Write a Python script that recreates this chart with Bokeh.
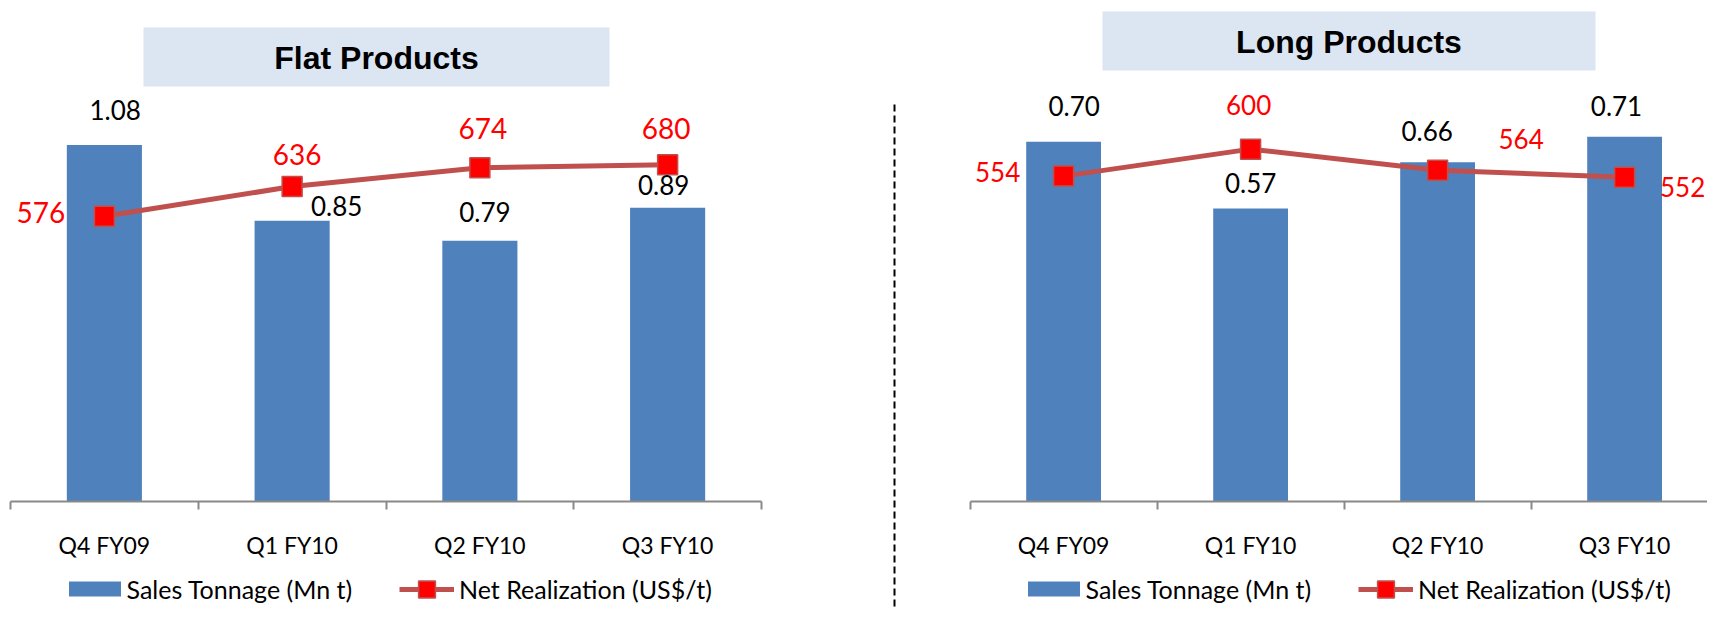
import numpy as np
from bokeh.plotting import figure
from bokeh.layouts import row
from bokeh.models import (Range1d, LinearAxis, FixedTicker, Legend, LegendItem)
from bokeh.core.properties import value
from bokeh.embed import file_html
from bokeh.resources import INLINE

# ---------------- data ----------------
categories = ["Q4 FY09", "Q1 FY10", "Q2 FY10", "Q3 FY10"]
flat_tonnage = [1.08, 0.85, 0.79, 0.89]
flat_nr = [576, 636, 674, 680]
long_tonnage = [0.70, 0.57, 0.66, 0.71]
long_nr = [554, 600, 564, 552]
bar_label = "Sales Tonnage (Mn t)"
line_label = "Net Realization (US$/t)"

# ---------------- style ----------------
BAR = "#4F81BD"
LINE = "#C0504D"
MARK = "#FF0000"
AXIS = "#898989"
TBOX = "#DCE6F2"
FONT = "Lato"
TFONT = "Liberation Sans"
SHIFT = -10.5   # baseline correction for text glyphs

H = 607  # figure height


def panel(width, ref_left, b0, cw, ref_base, ref_top, tmax, nmax,
          title, tbox, tnum, nnum, t_dx, t_dy, n_dx, n_dy, red_size,
          leg_a_x, leg_b_x, dashed=None):
    ref_right = ref_left + width
    ref_ftop, ref_fbot = 0, H
    n = len(categories)
    centers = np.arange(n) + 0.5
    bounds = np.arange(n + 1)
    s1 = (ref_base - ref_top) / tmax
    s2 = (ref_base - ref_top) / nmax
    p = figure(width=width, height=H, output_backend="svg", toolbar_location=None,
               x_axis_location=None, y_axis_location=None,
               x_range=Range1d((ref_left - b0) / cw, (ref_right - b0) / cw),
               y_range=Range1d(-(ref_fbot - ref_base) / s1, (ref_base - ref_ftop) / s1),
               min_border=0, min_border_left=0, min_border_right=0,
               min_border_top=0, min_border_bottom=0)
    p.extra_y_ranges = {
        "nr": Range1d(-(ref_fbot - ref_base) / s2, (ref_base - ref_ftop) / s2),
        "px": Range1d(ref_fbot, ref_ftop),
    }
    p.extra_x_ranges = {"px": Range1d(ref_left, ref_right)}
    p.outline_line_color = None
    p.grid.visible = False
    p.background_fill_color = "white"
    p.border_fill_color = "white"

    # category axis drawn on the zero line
    ax = LinearAxis(fixed_location=0,
                    ticker=FixedTicker(ticks=list(centers), minor_ticks=list(bounds)))
    ax.bounds = (0, n)
    ax.major_label_overrides = {float(c): cat for c, cat in zip(centers, categories)}
    ax.axis_line_color = AXIS
    ax.axis_line_width = 2
    ax.major_tick_out = 0
    ax.major_tick_in = 0
    ax.minor_tick_out = 8
    ax.minor_tick_in = 0
    ax.minor_tick_line_color = AXIS
    ax.minor_tick_line_width = 2
    ax.major_label_text_font = FONT
    ax.major_label_text_font_size = "23px"
    ax.major_label_text_color = "black"
    ax.major_label_standoff = 22
    p.add_layout(ax, "below")

    # title box
    p.quad(left=[tbox[0]], right=[tbox[1]], top=[tbox[2]], bottom=[tbox[3]],
           fill_color=TBOX, line_color=None, x_range_name="px", y_range_name="px")
    p.text(x=[(tbox[0] + tbox[1]) / 2], y=[tbox[4]], text=[title],
           text_align="center", text_baseline="alphabetic",
           text_font=value(TFONT), text_font_style="bold", text_font_size=value("32px"),
           text_color="black", x_range_name="px", y_range_name="px")

    if dashed is not None:
        p.segment(x0=[dashed[0]], y0=[dashed[1]], x1=[dashed[0]], y1=[dashed[2]],
                  line_color="black", line_width=2, line_dash="7 4",
                  x_range_name="px", y_range_name="px")

    bars = p.vbar(x=centers, top=tnum, width=0.4, fill_color=BAR, line_color=None)
    ln = p.line(x=centers, y=nnum, line_color=LINE, line_width=5, y_range_name="nr")
    sq = p.scatter(x=centers, y=nnum, marker="square", size=20, fill_color=MARK,
                   line_color=LINE, line_width=1.5, y_range_name="nr")

    p.text(x=centers, y=tnum, text=["%.2f" % v for v in tnum],
           x_offset=t_dx, y_offset=[d + SHIFT for d in t_dy],
           text_align="center", text_baseline="alphabetic",
           text_font=value(FONT), text_font_size=value("26px"), text_color="black")
    p.text(x=centers, y=nnum, text=["%d" % v for v in nnum],
           x_offset=n_dx, y_offset=[d + SHIFT for d in n_dy],
           text_align="center", text_baseline="alphabetic",
           text_font=value(FONT), text_font_size=value(red_size), text_color=MARK,
           y_range_name="nr")

    common = dict(padding=0, margin=0, spacing=0, border_line_color=None,
                  background_fill_alpha=0, label_text_font=FONT,
                  label_text_font_size="25px", label_text_color="black")
    la = Legend(items=[LegendItem(label=bar_label, renderers=[bars])],
                location=(leg_a_x - ref_left, 3.5), glyph_width=65, glyph_height=19,
                label_height=19, label_standoff=0, **common)
    lb = Legend(items=[LegendItem(label=line_label, renderers=[ln, sq])],
                location=(leg_b_x - ref_left, -3), glyph_width=55, glyph_height=42,
                label_height=42, label_standoff=5, **common)
    p.add_layout(la)
    p.add_layout(lb)
    return p


p1 = panel(882, 0, 10.0, 187.75, 500.5, 105, 1.2, 800,
           "Flat Products", (143, 609, 27, 86, 57.5),
           flat_tonnage, flat_nr,
           [10.75, 44.6, 5, -4], [-25, -4, -18, -12],
           [-63.6, 5, 3, -1.4], [6.7, -21.7, -29, -25.6], "28px",
           61.5, 399)

p2 = panel(825, 882, 969.6, 187.0, 500.5, 90, 0.8, 700,
           "Long Products", (1102, 1595, 11, 70, 41),
           long_tonnage, long_nr,
           [10.5, 0, -10.4, -8.1], [-25.3, -15.3, -20.6, -19.7],
           [-66, -2, 83.5, 58], [6.5, -33.7, -20.7, 20.3], "26px",
           1020.5, 1358, dashed=(894, 104, 607))

layout = row(p1, p2)
open("out.html", "w").write(file_html(layout, INLINE))
